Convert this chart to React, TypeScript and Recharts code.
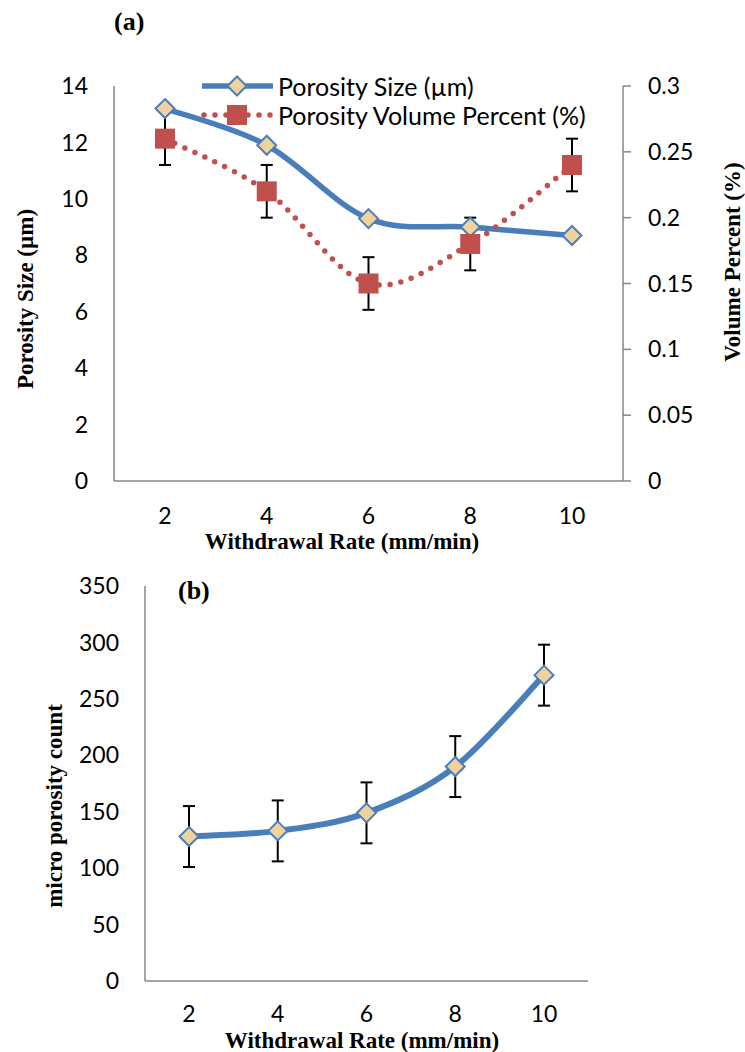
import React from "react";
import { LineChart, Line, XAxis, YAxis, ErrorBar, Legend, Label } from "recharts";

// withdrawal rate (mm/min)
const rates = ["2", "4", "6", "8", "10"];

// chart (a)
const poreSize = [13.2, 11.9, 9.3, 9.0, 8.7];
const volPercent = [0.26, 0.22, 0.15, 0.18, 0.24];
const volErr = [0.02, 0.02, 0.02, 0.02, 0.02];
const sizeTicks = [0, 2, 4, 6, 8, 10, 12, 14];
const volTicks = [0, 0.05, 0.1, 0.15, 0.2, 0.25, 0.3];

// chart (b)
const microCount = [128, 133, 149, 190, 271];
const microErr = [27, 27, 27, 27, 27];
const countTicks = [0, 50, 100, 150, 200, 250, 300, 350];

const BLUE = "#4a7ebb";
const RED = "#c0504d";
const TAN = "#f0d29c";
const AXIS = "#868686";
const SANS = "Lato, 'Open Sans', sans-serif";
const SERIF = "'Liberation Serif', 'Times New Roman', serif";

const tickStyle = { fill: "#000", fontSize: 23, fontFamily: SANS };

const dataA = rates.map((rate, i) => ({
  rate,
  size: poreSize[i],
  vol: volPercent[i],
  volErr: volErr[i],
}));

const dataB = rates.map((rate, i) => ({
  rate,
  count: microCount[i],
  countErr: microErr[i],
}));

// Excel-like smoothed line (Catmull-Rom through the points)
function excelSmooth(context: any) {
  let pts: number[][] = [];
  return {
    areaStart() {},
    areaEnd() {},
    lineStart() {
      pts = [];
    },
    point(x: number, y: number) {
      pts.push([+x, +y]);
    },
    lineEnd() {
      if (!pts.length) return;
      context.moveTo(pts[0][0], pts[0][1]);
      const t = 1 / 6;
      for (let i = 0; i < pts.length - 1; i++) {
        const p0 = pts[i - 1] || pts[i];
        const p1 = pts[i];
        const p2 = pts[i + 1];
        const p3 = pts[i + 2] || p2;
        context.bezierCurveTo(
          p1[0] + (p2[0] - p0[0]) * t,
          p1[1] + (p2[1] - p0[1]) * t,
          p2[0] - (p3[0] - p1[0]) * t,
          p2[1] - (p3[1] - p1[1]) * t,
          p2[0],
          p2[1]
        );
      }
    },
  };
}

const diamondPath = (cx: number, cy: number, r: number) =>
  `M${cx},${cy - r}L${cx + r},${cy}L${cx},${cy + r}L${cx - r},${cy}Z`;

const renderDiamond = (p: any) => {
  if (p.cx == null || p.cy == null) return <g key={p.index} />;
  return (
    <path
      key={p.index}
      d={diamondPath(p.cx, p.cy, 9.5)}
      fill={TAN}
      stroke={BLUE}
      strokeWidth={2}
    />
  );
};

const renderSquare = (p: any) => {
  if (p.cx == null || p.cy == null) return <g key={p.index} />;
  return <rect key={p.index} x={p.cx - 10} y={p.cy - 10} width={20} height={20} fill={RED} />;
};

const vTitle = (x: number, y: number, text: string) => () =>
  (
    <text
      x={x}
      y={y}
      transform={`rotate(-90 ${x} ${y})`}
      textAnchor="middle"
      fontFamily={SERIF}
      fontWeight="bold"
      fontSize={23}
      fill="#000"
    >
      {text}
    </text>
  );

const hTitle = (x: number, y: number, text: string) => () =>
  (
    <text x={x} y={y} textAnchor="middle" fontFamily={SERIF} fontWeight="bold" fontSize={23} fill="#000">
      {text}
    </text>
  );

const LegendA = () => (
  <div style={{ position: "relative", width: 440, height: 58, fontFamily: SANS, fontSize: 25, color: "#000" }}>
    <svg width={80} height={58} style={{ position: "absolute", left: 0, top: 0 }}>
      <line x1={2} y1={14} x2={73} y2={14} stroke={BLUE} strokeWidth={5.5} />
      <path d={diamondPath(37, 14, 9.5)} fill={TAN} stroke={BLUE} strokeWidth={2} />
      <line
        x1={4}
        y1={43}
        x2={72}
        y2={43}
        stroke={RED}
        strokeWidth={5.5}
        strokeDasharray="0 11"
        strokeLinecap="round"
      />
      <rect x={27} y={33} width={20} height={20} fill={RED} />
    </svg>
    <div style={{ position: "absolute", left: 78, top: 0, lineHeight: "29px", whiteSpace: "nowrap" }}>
      Porosity Size (µm)
    </div>
    <div style={{ position: "absolute", left: 78, top: 29, lineHeight: "29px", whiteSpace: "nowrap" }}>
      Porosity Volume Percent (%)
    </div>
  </div>
);

const panelLabel = (left: number, top: number, text: string) => (
  <div
    style={{
      position: "absolute",
      left,
      top,
      fontFamily: SERIF,
      fontWeight: "bold",
      fontSize: 26,
      lineHeight: "30px",
      color: "#000",
    }}
  >
    {text}
  </div>
);

export default function App() {
  return (
    <div style={{ position: "absolute", left: 0, top: 0, width: 745, height: 1052, background: "#fff" }}>
      {panelLabel(114, 7, "(a)")}

      <div style={{ position: "absolute", left: 0, top: 0 }}>
        <LineChart width={745} height={560} data={dataA} margin={{ top: 86, right: 0, bottom: 19, left: 0 }}>
          <XAxis
            dataKey="rate"
            height={60}
            padding={{ left: 51, right: 51 }}
            tickLine={false}
            axisLine={{ stroke: AXIS, strokeWidth: 1.5 }}
            tick={tickStyle}
            tickMargin={21}
            interval={0}
          >
            <Label content={hTitle(342, 549, "Withdrawal Rate (mm/min)")} />
          </XAxis>
          <YAxis
            yAxisId="left"
            width={114}
            domain={[0, 14]}
            ticks={sizeTicks}
            interval={0}
            tickLine={false}
            axisLine={{ stroke: AXIS, strokeWidth: 1.5 }}
            tick={tickStyle}
            tickMargin={20}
          >
            <Label content={vTitle(33, 299, "Porosity Size (µm)")} />
          </YAxis>
          <YAxis
            yAxisId="right"
            orientation="right"
            width={122}
            domain={[0, 0.3]}
            ticks={volTicks}
            interval={0}
            tickSize={8}
            tickLine={{ stroke: AXIS, strokeWidth: 1.5 }}
            axisLine={{ stroke: AXIS, strokeWidth: 1.5 }}
            tick={tickStyle}
            tickMargin={17}
          >
            <Label content={vTitle(740, 262, "Volume Percent (%)")} />
          </YAxis>
          <Legend
            layout="vertical"
            align="center"
            verticalAlign="middle"
            content={() => <LegendA />}
            wrapperStyle={{ position: "absolute", left: 200, top: 72, width: 440 }}
          />
          <Line
            yAxisId="left"
            dataKey="size"
            type={excelSmooth as any}
            stroke={BLUE}
            strokeWidth={5.5}
            dot={renderDiamond}
            activeDot={false}
            isAnimationActive={false}
          />
          <Line
            yAxisId="right"
            dataKey="vol"
            type={excelSmooth as any}
            stroke={RED}
            strokeWidth={5.5}
            strokeDasharray="0 11"
            strokeLinecap="round"
            dot={renderSquare}
            activeDot={false}
            isAnimationActive={false}
          >
            <ErrorBar dataKey="volErr" direction="y" width={6} strokeWidth={2} stroke="#000" />
          </Line>
        </LineChart>
      </div>

      {panelLabel(178, 576, "(b)")}

      <div style={{ position: "absolute", left: 0, top: 560 }}>
        <LineChart width={745} height={492} data={dataB} margin={{ top: 26, right: 157, bottom: 11, left: 0 }}>
          <XAxis
            dataKey="rate"
            height={60}
            padding={{ left: 44, right: 44 }}
            tickLine={false}
            axisLine={{ stroke: AXIS, strokeWidth: 1.5 }}
            tick={tickStyle}
            tickMargin={19}
            interval={0}
          >
            <Label content={hTitle(362, 488, "Withdrawal Rate (mm/min)")} />
          </XAxis>
          <YAxis
            width={145}
            domain={[0, 350]}
            ticks={countTicks}
            interval={0}
            tickLine={false}
            axisLine={{ stroke: AXIS, strokeWidth: 1.5 }}
            tick={tickStyle}
            tickMargin={20}
          >
            <Label content={vTitle(62, 246, "micro porosity count")} />
          </YAxis>
          <Line
            dataKey="count"
            type={excelSmooth as any}
            stroke={BLUE}
            strokeWidth={6}
            dot={renderDiamond}
            activeDot={false}
            isAnimationActive={false}
          >
            <ErrorBar dataKey="countErr" direction="y" width={6} strokeWidth={2} stroke="#000" />
          </Line>
        </LineChart>
      </div>
    </div>
  );
}
